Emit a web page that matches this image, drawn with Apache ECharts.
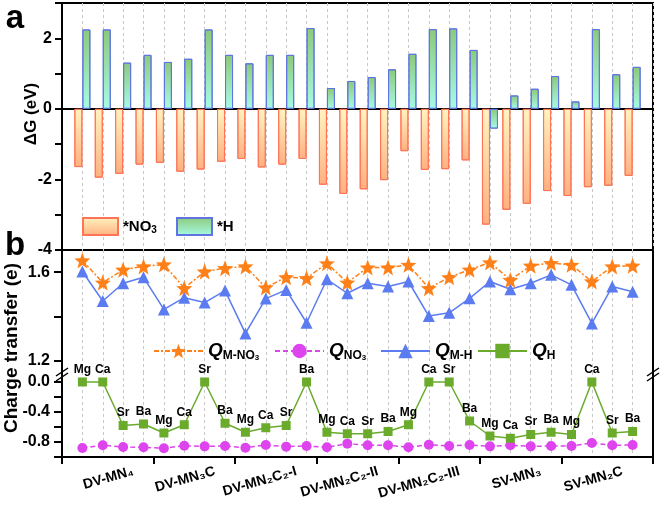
<!DOCTYPE html>
<html><head><meta charset="utf-8">
<script src="https://cdn.jsdelivr.net/npm/echarts@6/dist/echarts.min.js"></script>
<style>html,body{margin:0;padding:0;background:#fff}#c{width:661px;height:515px}</style>
</head><body><div id="c"></div>
<script>
// ---------- data ----------
const metals = ['Mg','Ca','Sr','Ba','Mg','Ca','Sr','Ba','Mg','Ca','Sr','Ba','Mg','Ca','Sr','Ba',
                'Mg','Ca','Sr','Ba','Mg','Ca','Sr','Ba','Mg','Ca','Sr','Ba'];
const groups = ['DV-MN\u2084','DV-MN\u2083C','DV-MN\u2082C\u2082-I','DV-MN\u2082C\u2082-II',
                'DV-MN\u2082C\u2082-III','SV-MN\u2083','SV-MN\u2082C'];
const dG_NO3 = [-1.65,-1.95,-1.84,-1.58, -1.53,-1.78,-1.72,-1.50, -1.42,-1.66,-1.58,-1.42,
                -2.15,-2.41,-2.28,-2.02, -1.20,-1.73,-1.71,-1.46, -3.28,-2.86,-2.69,-2.33,
                -2.47,-2.22,-2.18,-1.90];
const dG_H = [2.25,2.25,1.31,1.53, 1.33,1.42,2.25,1.53, 1.29,1.53,1.53,2.29,
              0.59,0.79,0.90,1.12, 1.56,2.26,2.28,1.67, -0.56,0.38,0.57,0.93,
              0.21,2.26,0.98,1.19];
const Q_MNO3 = [1.653,1.553,1.611,1.626, 1.635,1.528,1.603,1.618, 1.626,1.531,1.577,1.573,
                1.640,1.553,1.621,1.621, 1.633,1.528,1.577,1.611, 1.644,1.565,1.629,1.641,
                1.633,1.558,1.626,1.629];
const Q_MH = [1.603,1.470,1.550,1.577, 1.432,1.485,1.463,1.517, 1.324,1.481,1.520,1.372,
              1.568,1.505,1.550,1.535, 1.558,1.402,1.417,1.482, 1.558,1.523,1.550,1.588,
              1.543,1.369,1.535,1.512];
const Q_H = [0,0,-0.58,-0.56, -0.68,-0.57,0,-0.55, -0.67,-0.61,-0.58,0,
             -0.67,-0.69,-0.69,-0.66, -0.57,0,0,-0.52, -0.72,-0.75,-0.70,-0.67,
             -0.70,0,-0.68,-0.66];
const Q_NO3 = [-0.880,-0.844,-0.867,-0.871, -0.884,-0.849,-0.858,-0.853, -0.876,-0.840,-0.862,-0.853,
               -0.871,-0.822,-0.844,-0.844, -0.871,-0.836,-0.853,-0.840, -0.858,-0.844,-0.858,-0.853,
               -0.853,-0.813,-0.844,-0.840];
const yTicksA = [-4,-3,-2,-1,0,1,2,3];
const yLabelsA = [-4,-2,0,2];
const yTicksB1 = [1.2,1.4,1.6];
const yLabelsB1 = [1.2,1.6];
const yTicksB2 = [-1,-0.8,-0.6,-0.4,-0.2,0];
const yLabelsB2 = [-0.8,-0.4,0];

// ---------- helpers ----------
const FONT = 'Liberation Sans, Arial, Helvetica, sans-serif';
const xs = metals.map((m,i)=>i+1);
const pairs = arr => arr.map((v,i)=>[xs[i], v]);
const groupCenters = groups.map((g,i)=>i*4+2.5);
const groupTickVals = [0].concat(groups.slice(1).map((g,i)=>(i+1)*4+0.5)).concat([29]);
const LABEL_SHIFT = 1.0;
const LABEL_ROT = 16;
const slots = Array.from({length:59}, (_,k)=>String(k/2));

const starPts=[];
for(let i=0;i<10;i++){const r=i%2?0.42:1;const a=-Math.PI/2+i*Math.PI/5;
  starPts.push((Math.cos(a)*r*50+50).toFixed(2)+' '+(Math.sin(a)*r*50+50).toFixed(2));}
const STAR='path://M'+starPts.join(' L')+' Z';

const dashGrid = {show:true, lineStyle:{color:'#c8c8c8', type:[3,3], width:1}};
const blackLine = w => ({show:true, onZero:false, lineStyle:{color:'#000', width:w}});
const tickLbl = {color:'#000', fontFamily:FONT, fontWeight:'bold', fontSize:16};

const chart = echarts.init(document.getElementById('c'));
const gridCommon = {left:62, right:8, containLabel:false, outerBoundsMode:'none'};

const legendText = {
  color:'#000', fontFamily:FONT, fontWeight:'bold', fontSize:15, lineHeight:18,
  rich:{
    n:{fontFamily:FONT, fontWeight:'bold', fontSize:15, lineHeight:18, color:'#000'},
    s:{fontFamily:FONT, fontWeight:'bold', fontSize:10, lineHeight:10, verticalAlign:'bottom', color:'#000'}
  }
};
const qText = {
  color:'#000', fontFamily:FONT, fontWeight:'bold', fontSize:17, lineHeight:22,
  rich:{
    q:{fontFamily:FONT, fontWeight:'bold', fontStyle:'italic', fontSize:19, lineHeight:22, color:'#000'},
    s:{fontFamily:FONT, fontWeight:'bold', fontSize:12, lineHeight:11, verticalAlign:'bottom', color:'#000'},
    ss:{fontFamily:FONT, fontWeight:'bold', fontSize:8, lineHeight:5, verticalAlign:'bottom', color:'#000'}
  }
};
const legendNames = {
  'NO3bar':'{n|*NO}{s|3}', 'Hbar':'{n|*H}',
  'QMNO3':'{q|Q}{s|M-NO}{ss|3}', 'QNO3':'{q|Q}{s|NO}{ss|3}',
  'QMH':'{q|Q}{s|M-H}', 'QH':'{q|Q}{s|H}'
};
const legendFmt = n => legendNames[n];

const breakMark = (id, x, y) => ({type:'group', id:id, x:x, y:y, z:10, children:[
  {type:'polygon', shape:{points:[[-6,2],[6,-6],[6,-1],[-6,7]]}, style:{fill:'#fff'}},
  {type:'line', shape:{x1:-6,y1:2,x2:6,y2:-6}, style:{stroke:'#000', lineWidth:1.5}},
  {type:'line', shape:{x1:-6,y1:7,x2:6,y2:-1}, style:{stroke:'#000', lineWidth:1.5}}
]});

const option = {
  animation:false,
  backgroundColor:'#fff',
  grid:[
    Object.assign({top:3, height:247, show:true, borderColor:'#000', borderWidth:2, backgroundColor:'transparent'}, gridCommon),
    Object.assign({top:250, height:122}, gridCommon),
    Object.assign({top:372, height:85}, gridCommon)
  ],
  xAxis:[
    {gridIndex:0, type:'value', min:0, max:29, interval:1,
     axisLine:{show:true, onZero:true, lineStyle:{color:'#000', width:2}},
     axisTick:{show:false}, axisLabel:{show:false}, splitLine:dashGrid},
    {gridIndex:1, type:'value', min:0, max:29, interval:1,
     axisLine:{show:false}, axisTick:{show:false}, axisLabel:{show:false}, splitLine:dashGrid},
    {gridIndex:2, type:'value', min:0, max:29, interval:1, position:'bottom',
     axisLine:{show:false}, axisTick:{show:false}, axisLabel:{show:false}, splitLine:dashGrid},
    {gridIndex:2, type:'category', data:slots, boundaryGap:false, position:'bottom',
     axisLine:blackLine(2),
     axisTick:{show:true, inside:false, length:7, interval:(i,v)=>groupTickVals.indexOf(parseFloat(v))>=0,
       lineStyle:{color:'#000', width:2}},
     axisLabel:{show:false},
     splitLine:{show:false}}
  ],
  yAxis:[
    {gridIndex:0, type:'value', min:-4, max:3, position:'left',
     axisLine:blackLine(2),
     axisTick:{show:true, inside:false, length:7, customValues:yTicksA, lineStyle:{color:'#000', width:2}},
     axisLabel:Object.assign({customValues:yLabelsA, margin:10, formatter:v=>String(v)}, tickLbl),
     splitLine:{show:false}},
    {gridIndex:1, type:'value', min:1.15, max:1.7, position:'left',
     axisLine:blackLine(2),
     axisTick:{show:true, inside:false, length:8, customValues:yTicksB1, lineStyle:{color:'#000', width:2}},
     axisLabel:Object.assign({customValues:yLabelsB1, margin:12, formatter:v=>v.toFixed(1)}, tickLbl),
     splitLine:{show:false}},
    {gridIndex:1, type:'value', min:1.15, max:1.7, position:'right',
     axisLine:blackLine(2), axisTick:{show:false}, axisLabel:{show:false}, splitLine:{show:false}},
    {gridIndex:2, type:'value', min:-1, max:0.133, position:'left',
     axisLine:blackLine(2),
     axisTick:{show:true, inside:false, length:8, customValues:yTicksB2, lineStyle:{color:'#000', width:2}},
     axisLabel:Object.assign({customValues:yLabelsB2, margin:12, formatter:v=>v.toFixed(1)}, tickLbl),
     splitLine:{show:false}},
    {gridIndex:2, type:'value', min:-1, max:0.133, position:'right',
     axisLine:blackLine(2), axisTick:{show:false}, axisLabel:{show:false}, splitLine:{show:false}}
  ],
  legend:[
    {data:['NO3bar'], left:82, top:217, icon:'rect', itemWidth:35, itemHeight:17, itemGap:0,
     formatter:legendFmt, textStyle:legendText, padding:0},
    {data:['Hbar'], left:176, top:217, icon:'rect', itemWidth:35, itemHeight:17, itemGap:0,
     formatter:legendFmt, textStyle:legendText, padding:0},
    {data:['QMNO3'], left:153, top:340, itemWidth:49, itemHeight:18, formatter:legendFmt, textStyle:qText, padding:0},
    {data:['QNO3'], left:274, top:340, itemWidth:49, itemHeight:18, formatter:legendFmt, textStyle:qText, padding:0},
    {data:['QMH'], left:380, top:340, itemWidth:49, itemHeight:18, formatter:legendFmt, textStyle:qText, padding:0},
    {data:['QH'], left:477, top:340, itemWidth:49, itemHeight:18, formatter:legendFmt, textStyle:qText, padding:0}
  ],
  series:[
    {name:'NO3bar', type:'bar', xAxisIndex:0, yAxisIndex:0, data:pairs(dG_NO3), barWidth:8, barGap:'0%',
     itemStyle:{color:{type:'linear',x:0,y:0,x2:0,y2:1,colorStops:[{offset:0,color:'#fff4c0'},{offset:1,color:'#ffb080'}]},
       borderColor:'#ff7456', borderWidth:1}},
    {name:'Hbar', type:'bar', xAxisIndex:0, yAxisIndex:0, data:pairs(dG_H), barWidth:8, barGap:'0%',
     itemStyle:{color:{type:'linear',x:0,y:0,x2:0,y2:1,colorStops:[{offset:0,color:'#8cc97a'},{offset:1,color:'#a6fbe6'}]},
       borderColor:'#5f74e0', borderWidth:1}},
    {name:'QMNO3', type:'line', xAxisIndex:1, yAxisIndex:1, data:pairs(Q_MNO3), clip:false,
     symbol:STAR, symbolSize:16, itemStyle:{color:'#ff8019'},
     lineStyle:{color:'#ff8019', width:1.5, type:[5,2,2,2]}, z:3},
    {name:'QMH', type:'line', xAxisIndex:1, yAxisIndex:1, data:pairs(Q_MH), clip:false,
     symbol:'triangle', symbolSize:12, itemStyle:{color:'#5b7cf0'},
     lineStyle:{color:'#5b7cf0', width:1.5}, z:2},
    {name:'QNO3', type:'line', xAxisIndex:2, yAxisIndex:3, data:pairs(Q_NO3), clip:false,
     symbol:'circle', symbolSize:10, itemStyle:{color:'#dd44ee'},
     lineStyle:{color:'#dd44ee', width:1.5, type:[5,3]}},
    {name:'QH', type:'line', xAxisIndex:2, yAxisIndex:3, data:pairs(Q_H), clip:false,
     symbol:'rect', symbolSize:9, itemStyle:{color:'#6aab2c'},
     lineStyle:{color:'#6aab2c', width:1.5},
     label:{show:true, position:'top', distance:2, formatter:p=>metals[p.dataIndex],
       color:'#000', fontFamily:FONT, fontWeight:'bold', fontSize:12}}
  ]
};
chart.setOption(option);

// ---------- texts / decorations placed from the axes ----------
const gx = v => chart.convertToPixel({xAxisIndex:2}, v);
const gyA = v => chart.convertToPixel({yAxisIndex:0}, v);
const gyB1 = v => chart.convertToPixel({yAxisIndex:1}, v);
const gyB2 = v => chart.convertToPixel({yAxisIndex:3}, v);
const xLeft = gx(0), xRight = gx(29), yAxisB = gyB2(-1), yBreak = gyB1(1.15);

const graphics = [
  {type:'text', id:'ta', x:15, y:18.6, z:10, style:{text:'a', fill:'#000', font:'bold 33px '+FONT, textAlign:'center', textVerticalAlign:'middle'}},
  {type:'text', id:'tb', x:15, y:245.6, z:10, style:{text:'b', fill:'#000', font:'bold 33px '+FONT, textAlign:'center', textVerticalAlign:'middle'}},
  {type:'text', id:'ya', x:31, y:114, rotation:Math.PI/2, z:10, style:{text:'\u0394G (eV)', fill:'#000', font:'bold 17px '+FONT, textAlign:'center', textVerticalAlign:'middle'}},
  {type:'text', id:'yb', x:12, y:348, rotation:Math.PI/2, z:10, style:{text:'Charge transfer (e)', fill:'#000', font:'bold 19px '+FONT, textAlign:'center', textVerticalAlign:'middle'}},
  breakMark('bl', xLeft, yBreak + 2),
  breakMark('br', xRight, yBreak + 2)
];
groups.forEach((g,i)=>{
  graphics.push({type:'text', id:'g'+i, x:gx(groupCenters[i]+LABEL_SHIFT), y:yAxisB + 14,
    rotation:LABEL_ROT*Math.PI/180, z:10,
    style:{text:g, fill:'#000', font:'bold 14px '+FONT, textAlign:'right', textVerticalAlign:'middle'}});
});
chart.setOption({graphic:graphics});
</script>
</body></html>
